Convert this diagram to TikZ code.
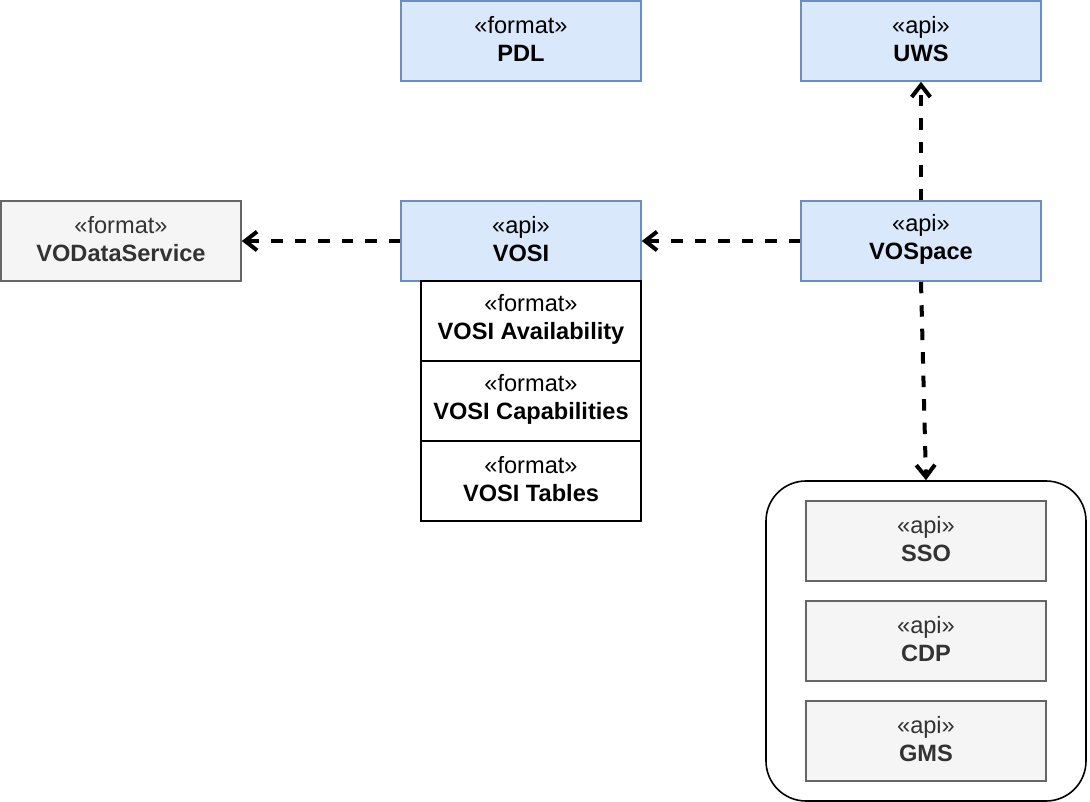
\documentclass[tikz,border=0pt]{standalone}
\usepackage{fontspec}
\setmainfont{Liberation Sans}
\usetikzlibrary{arrows.meta}
\definecolor{bfill}{HTML}{DAE8FC}
\definecolor{bdraw}{HTML}{6C8EBF}
\definecolor{gfill}{HTML}{F5F5F5}
\definecolor{gdraw}{HTML}{666666}
\definecolor{gtext}{HTML}{333333}
\tikzset{
  txt/.style={align=center, inner sep=0pt, yshift=1.5pt,
    font=\fontsize{17.7}{21}\selectfont},
  base/.style={rectangle, inner sep=0pt, line width=1.2pt,
    minimum width=180pt, minimum height=60pt},
  bluebox/.style={base, fill=bfill, draw=bdraw},
  graybox/.style={base, fill=gfill, draw=gdraw},
  grtxt/.style={txt, text=gtext},
  subbox/.style={base, fill=white, draw=black, minimum width=165pt},
  dep/.style={line width=3pt, dash pattern=on 8.6pt off 9pt,
    -{Straight Barb[length=9pt,width=14pt,line width=3pt]}},
}
\begin{document}
\begin{tikzpicture}[x=0.75pt,y=-0.75pt]
\useasboundingbox (0,0) rectangle (1090,802);
\node[bluebox, label={[txt]center:«format»\\\textbf{PDL}}] (pdl) at (521,41) {};
\node[bluebox, label={[txt]center:«api»\\\textbf{UWS}}] (uws) at (921,41) {};
\node[graybox, label={[grtxt]center:«format»\\\textbf{VODataService}}] (vods) at (121,241) {};
\node[bluebox, label={[txt]center:«api»\\\textbf{VOSI}}] (vosi) at (521,241) {};
\node[bluebox, label={[txt]center:«api»\\\textbf{VOSpace}}] (vospace) at (921,241) {};
\node[subbox, label={[txt]center:«format»\\\textbf{VOSI Availability}}] (avail) at (531,321) {};
\node[subbox, label={[txt]center:«format»\\\textbf{VOSI Capabilities}}] (capab) at (531,401) {};
\node[subbox, label={[txt]center:«format»\\\textbf{VOSI Tables}}] (tables) at (531,481) {};
\node[draw=black, line width=1.2pt, rounded corners=30pt, minimum width=240pt, minimum height=240pt, inner sep=0pt] (group) at (926,641) {};
\node[graybox, label={[grtxt]center:«api»\\\textbf{SSO}}] (sso) at (926,541) {};
\node[graybox, label={[grtxt]center:«api»\\\textbf{CDP}}] (cdp) at (926,641) {};
\node[graybox, label={[grtxt]center:«api»\\\textbf{GMS}}] (gms) at (926,741) {};
\draw[dep] (vospace.west) -- (vosi.east);
\draw[dep] (vosi.west) -- (vods.east);
\draw[dep] (vospace.north) -- (uws.south);
\draw[dep] (vospace.south) -- (group.north);
\end{tikzpicture}
\end{document}
